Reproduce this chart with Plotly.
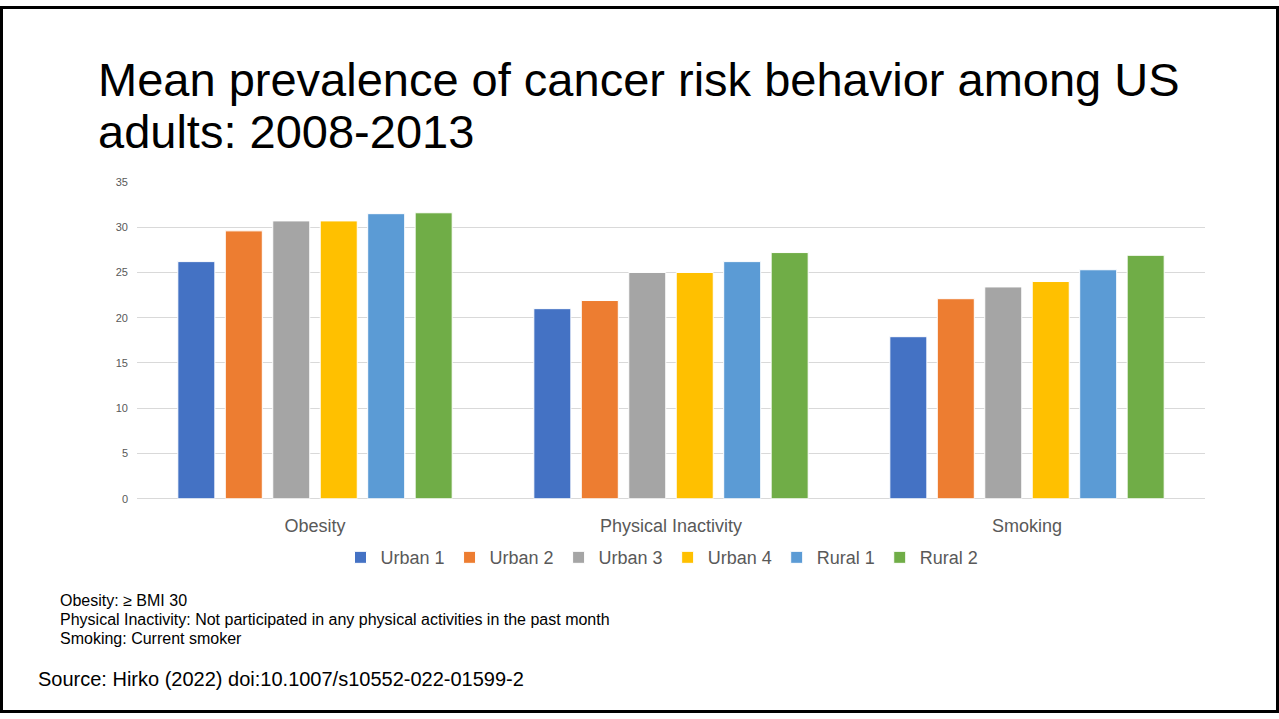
import plotly.graph_objects as go

# Risk behaviours (x categories) and rurality groups (series)
categories = ["Obesity", "Physical Inactivity", "Smoking"]
groups = ["Urban 1", "Urban 2", "Urban 3", "Urban 4", "Rural 1", "Rural 2"]

urban1 = [26.2, 21.0, 17.9]
urban2 = [29.6, 21.9, 22.1]
urban3 = [30.7, 25.0, 23.4]
urban4 = [30.7, 25.0, 24.0]
rural1 = [31.5, 26.2, 25.3]
rural2 = [31.6, 27.2, 26.9]

series_values = [urban1, urban2, urban3, urban4, rural1, rural2]
colors = ["#4472C4", "#ED7D31", "#A5A5A5", "#FFC000", "#5B9BD5", "#70AD47"]

y_ticks = [0, 5, 10, 15, 20, 25, 30, 35]

title_lines = ["Mean prevalence of cancer risk behavior among US", "adults: 2008-2013"]

definitions = [
    "Obesity: \u2265 BMI 30",
    "Physical Inactivity: Not participated in any physical activities in the past month",
    "Smoking: Current smoker",
]

W, H = 1279, 719
FONT = "Liberation Sans, Arial, sans-serif"
GREY = "#595959"

fig = go.Figure()
for name, vals, col in zip(groups, series_values, colors):
    fig.add_trace(go.Bar(
        x=categories, y=vals, name=name,
        marker=dict(color=col, line=dict(color="white", width=1)),
    ))

# plot area in page pixels
x0, x1 = 137, 1205
y_top, y_bot = 179, 501

fig.update_layout(
    width=W, height=H,
    margin=dict(l=0, r=0, t=0, b=0),
    paper_bgcolor="white", plot_bgcolor="white",
    barmode="group", bargap=0.2, bargroupgap=0.22,
    font=dict(family=FONT, color=GREY),
    showlegend=True,
    legend=dict(
        orientation="h", x=662 / W, xanchor="center",
        y=1 - 561 / H, yanchor="middle",
        font=dict(size=18, color=GREY, family=FONT),
        itemwidth=30, traceorder="normal",
        itemclick=False,
    ),
    xaxis=dict(
        domain=[x0 / W, x1 / W],
        tickfont=dict(size=18, color=GREY, family=FONT),
        showline=False, ticks="", showgrid=False,
        ticklabelstandoff=14,
    ),
    yaxis=dict(
        domain=[1 - y_bot / H, 1 - y_top / H],
        range=[0, 35], tickvals=y_ticks,
        tickfont=dict(size=11, color=GREY, family=FONT),
        showgrid=True, gridcolor="#D9D9D9", gridwidth=1,
        zeroline=True, zerolinecolor="#D9D9D9", zerolinewidth=1,
        ticks="", ticklabelstandoff=8,
    ),
)

# Title, two lines
for i, line in enumerate(title_lines):
    fig.add_annotation(
        text=line,
        xref="paper", yref="paper", x=96 / W, y=1 - (46 + 53 * i) / H,
        xanchor="left", yanchor="top", align="left", showarrow=False,
        font=dict(size=47, color="black", family=FONT),
    )

# Definitions, one line each
for i, line in enumerate(definitions):
    fig.add_annotation(
        text=line,
        xref="paper", yref="paper", x=58 / W, y=1 - (605 + 19 * i) / H,
        xanchor="left", yanchor="middle", align="left", showarrow=False,
        font=dict(size=16, color="black", family=FONT),
    )

# Source
fig.add_annotation(
    text="Source: Hirko (2022) doi:10.1007/s10552-022-01599-2",
    xref="paper", yref="paper", x=36 / W, y=1 - 684 / H,
    xanchor="left", yanchor="middle", align="left", showarrow=False,
    font=dict(size=20, color="black", family=FONT),
)

# Page frame
fig.add_shape(
    type="rect", xref="paper", yref="paper",
    x0=1.5 / W, x1=1 - 1.5 / W, y0=1.5 / H, y1=1 - 1.5 / H,
    line=dict(color="black", width=3), fillcolor="rgba(0,0,0,0)",
    layer="above",
)

fig.write_html("out.html")
